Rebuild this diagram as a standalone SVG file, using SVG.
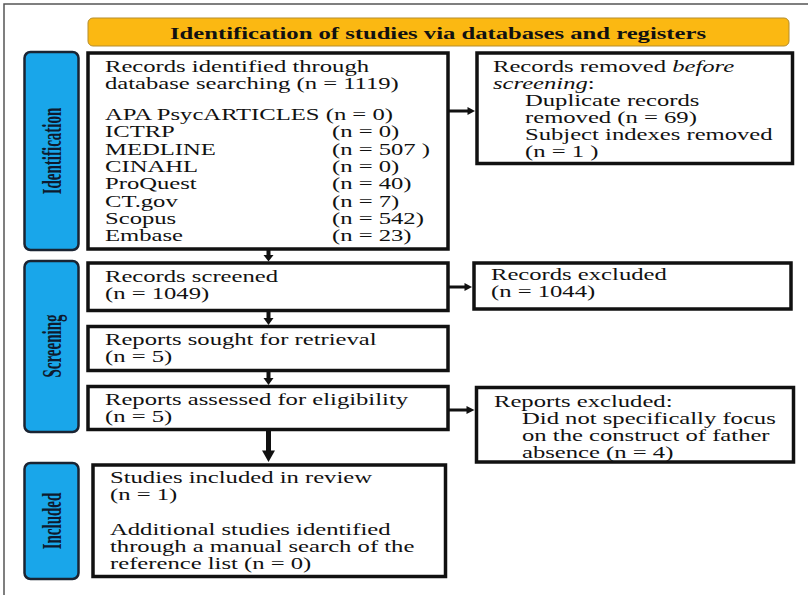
<svg xmlns="http://www.w3.org/2000/svg" width="808" height="595" viewBox="0 0 808 595">
<style>
.t{font-family:"Liberation Serif","Times New Roman",serif;font-size:16px;fill:#111}
.hd{font-family:"Liberation Serif","Times New Roman",serif;font-size:16px;font-weight:bold;fill:#111}
.sl{font-family:"Liberation Serif","Times New Roman",serif;font-size:15px;font-weight:bold;fill:#0e1a2e}
.box{fill:#fff;stroke:#111;stroke-width:3.5}
.side{fill:#19a6ea;stroke:#1a2433;stroke-width:2.5}
.ar{fill:#111}
</style>
<rect width="808" height="595" fill="#fff"/>
<path d="M4,595 V4 H808" fill="none" stroke="#555" stroke-width="1.5"/>

<g id="header">
<rect x="88" y="18" width="701" height="28" rx="5" fill="#fbb812" stroke="#b58d2c" stroke-width="1"/>
<text class="hd" text-anchor="middle" transform="translate(438,38.5) scale(1.54,1)">Identification of studies via databases and registers</text>
</g>

<g id="label-identification">
<rect class="side" x="24.5" y="52" width="54" height="198" rx="6"/>
<text class="sl" text-anchor="middle" transform="translate(61,151) scale(1.8,1) rotate(-90)">Identification</text>
</g>
<g id="label-screening">
<rect class="side" x="24.5" y="261" width="54" height="171" rx="6"/>
<text class="sl" text-anchor="middle" transform="translate(61,346) scale(1.8,1) rotate(-90)">Screening</text>
</g>
<g id="label-included">
<rect class="side" x="24.5" y="463" width="54" height="116" rx="6"/>
<text class="sl" text-anchor="middle" transform="translate(61,521) scale(1.8,1) rotate(-90)">Included</text>
</g>

<g id="records-identified">
<rect class="box" x="88" y="53" width="360" height="196"/>
<text class="t" transform="translate(105,71.5) scale(1.54,1)">Records identified through</text>
<text class="t" transform="translate(105,88.5) scale(1.54,1)">database searching (n = 1119)</text>
<text class="t" transform="translate(105,120) scale(1.54,1)">APA PsycARTICLES (n = 0)</text>
<text class="t" transform="translate(105,137) scale(1.54,1)">ICTRP</text>
<text class="t" transform="translate(332,137) scale(1.54,1)">(n = 0)</text>
<text class="t" transform="translate(105,154.5) scale(1.54,1)">MEDLINE</text>
<text class="t" transform="translate(332,154.5) scale(1.54,1)">(n = 507 )</text>
<text class="t" transform="translate(105,172) scale(1.54,1)">CINAHL</text>
<text class="t" transform="translate(332,172) scale(1.54,1)">(n = 0)</text>
<text class="t" transform="translate(105,189) scale(1.54,1)">ProQuest</text>
<text class="t" transform="translate(332,189) scale(1.54,1)">(n = 40)</text>
<text class="t" transform="translate(105,206.5) scale(1.54,1)">CT.gov</text>
<text class="t" transform="translate(332,206.5) scale(1.54,1)">(n = 7)</text>
<text class="t" transform="translate(105,224) scale(1.54,1)">Scopus</text>
<text class="t" transform="translate(332,224) scale(1.54,1)">(n = 542)</text>
<text class="t" transform="translate(105,241) scale(1.54,1)">Embase</text>
<text class="t" transform="translate(332,241) scale(1.54,1)">(n = 23)</text>
</g>

<g id="records-removed">
<rect class="box" x="477" y="53" width="315.5" height="110.5"/>
<text class="t" transform="translate(493,72) scale(1.54,1)">Records removed <tspan font-style="italic">before</tspan></text>
<text class="t" transform="translate(493,89) scale(1.54,1)"><tspan font-style="italic">screening</tspan>:</text>
<text class="t" transform="translate(525,106) scale(1.54,1)">Duplicate records</text>
<text class="t" transform="translate(525,123) scale(1.54,1)">removed (n = 69)</text>
<text class="t" transform="translate(525,140) scale(1.54,1)">Subject indexes removed</text>
<text class="t" transform="translate(525,157) scale(1.54,1)">(n = 1 )</text>
</g>

<g id="records-screened">
<rect class="box" x="88" y="263" width="360" height="47.5"/>
<text class="t" transform="translate(105,282) scale(1.54,1)">Records screened</text>
<text class="t" transform="translate(105,299) scale(1.54,1)">(n = 1049)</text>
</g>

<g id="records-excluded">
<rect class="box" x="474" y="263" width="317" height="46"/>
<text class="t" transform="translate(491,280) scale(1.54,1)">Records excluded</text>
<text class="t" transform="translate(491,297) scale(1.54,1)">(n = 1044)</text>
</g>

<g id="reports-sought">
<rect class="box" x="88" y="326.5" width="360" height="44"/>
<text class="t" transform="translate(105,345) scale(1.54,1)">Reports sought for retrieval</text>
<text class="t" transform="translate(105,362) scale(1.54,1)">(n = 5)</text>
</g>

<g id="reports-assessed">
<rect class="box" x="88" y="386.5" width="360" height="43"/>
<text class="t" transform="translate(105,405) scale(1.54,1)">Reports assessed for eligibility</text>
<text class="t" transform="translate(105,422) scale(1.54,1)">(n = 5)</text>
</g>

<g id="reports-excluded">
<rect class="box" x="476.5" y="387.5" width="317" height="74.5"/>
<text class="t" transform="translate(494,406.5) scale(1.54,1)">Reports excluded:</text>
<text class="t" transform="translate(522,423.5) scale(1.54,1)">Did not specifically focus</text>
<text class="t" transform="translate(522,440.5) scale(1.54,1)">on the construct of father</text>
<text class="t" transform="translate(522,457.5) scale(1.54,1)">absence (n = 4)</text>
</g>

<g id="studies-included">
<rect class="box" x="93" y="465" width="352.5" height="111.5"/>
<text class="t" transform="translate(110,483) scale(1.54,1)">Studies included in review</text>
<text class="t" transform="translate(110,500) scale(1.54,1)">(n = 1)</text>
<text class="t" transform="translate(110,535) scale(1.54,1)">Additional studies identified</text>
<text class="t" transform="translate(110,552) scale(1.54,1)">through a manual search of the</text>
<text class="t" transform="translate(110,569) scale(1.54,1)">reference list (n = 0)</text>
</g>

<g id="connectors">
<rect class="ar" x="266.5" y="250" width="4" height="5.5"/>
<polygon class="ar" points="263.5,255 273.5,255 268.5,261.5"/>
<rect class="ar" x="266.5" y="312" width="4" height="6.5"/>
<polygon class="ar" points="263.5,318 273.5,318 268.5,325"/>
<rect class="ar" x="266.5" y="372" width="4" height="6.5"/>
<polygon class="ar" points="263.5,378 273.5,378 268.5,385"/>
<rect class="ar" x="266" y="431" width="5" height="20"/>
<polygon class="ar" points="262,450.5 275,450.5 268.5,462"/>
<rect class="ar" x="449" y="109.5" width="19" height="3"/>
<polygon class="ar" points="467.5,107 467.5,115 475,111"/>
<rect class="ar" x="449" y="285.5" width="16" height="3"/>
<polygon class="ar" points="464.5,283 464.5,291 472,287"/>
<rect class="ar" x="449" y="408.5" width="18" height="3"/>
<polygon class="ar" points="466.5,406 466.5,414 474.5,410"/>
</g>
</svg>
